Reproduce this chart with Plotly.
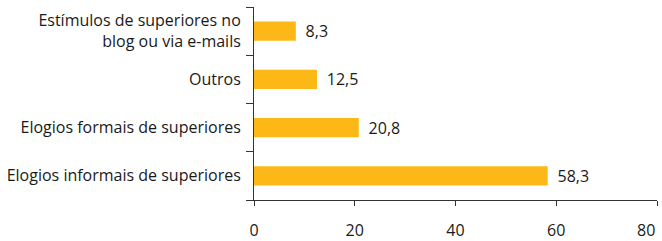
import plotly.graph_objects as go

categories = ["Elogios informais de superiores", "Elogios formais de superiores", "Outros",
              "Estímulos de superiores no<br>blog ou via e-mails"]
values = [58.3, 20.8, 12.5, 8.3]
labels = ["\u00a0\u2009" + f"{v:.1f}".replace(".", ",") for v in values]
x_ticks = [0, 20, 40, 60, 80]
x_ticktext = ["0", "20", "40", "60", ""]
x_last_label = "80"

FONT = "Open Sans"
TXT = "#1a1a1a"

fig = go.Figure(go.Bar(
    y=categories, x=values, orientation="h",
    marker=dict(color="#FBB817", line=dict(width=0)),
    text=labels, textposition="outside", cliponaxis=False, constraintext="none",
    textfont=dict(family=FONT, size=16, color=TXT),
    width=0.4,
))
fig.add_annotation(x=x_ticks[-1], xref="x", y=0, yref="paper", text=x_last_label,
                   showarrow=False, xanchor="right", yanchor="top", yshift=-17,
                   font=dict(family=FONT, size=16, color=TXT))
fig.update_layout(
    width=662, height=241,
    margin=dict(l=254, r=5, t=7, b=41, autoexpand=False),
    paper_bgcolor="white", plot_bgcolor="white",
    showlegend=False,
    font=dict(family=FONT, size=16, color=TXT),
    xaxis=dict(range=[0, 80], tickvals=x_ticks, ticktext=x_ticktext,
               showgrid=False, zeroline=False, showline=True, linecolor="#333333", linewidth=1,
               ticks="outside", ticklen=5, tickcolor="#333333", tickfont=dict(size=16),
               ticklabelstandoff=11, automargin=False, ticklabeloverflow="allow"),
    yaxis=dict(showgrid=False, zeroline=False, showline=True, linecolor="#333333", linewidth=1,
               ticks="outside", ticklen=7, tickcolor="#333333", tickson="boundaries",
               ticklabelstandoff=9, tickfont=dict(size=16), range=[-0.5, 3.5],
               automargin=False),
)
fig.write_html("out.html", config={"displayModeBar": False},
               post_script="document.body.style.margin='0';document.body.style.overflow='hidden';")
